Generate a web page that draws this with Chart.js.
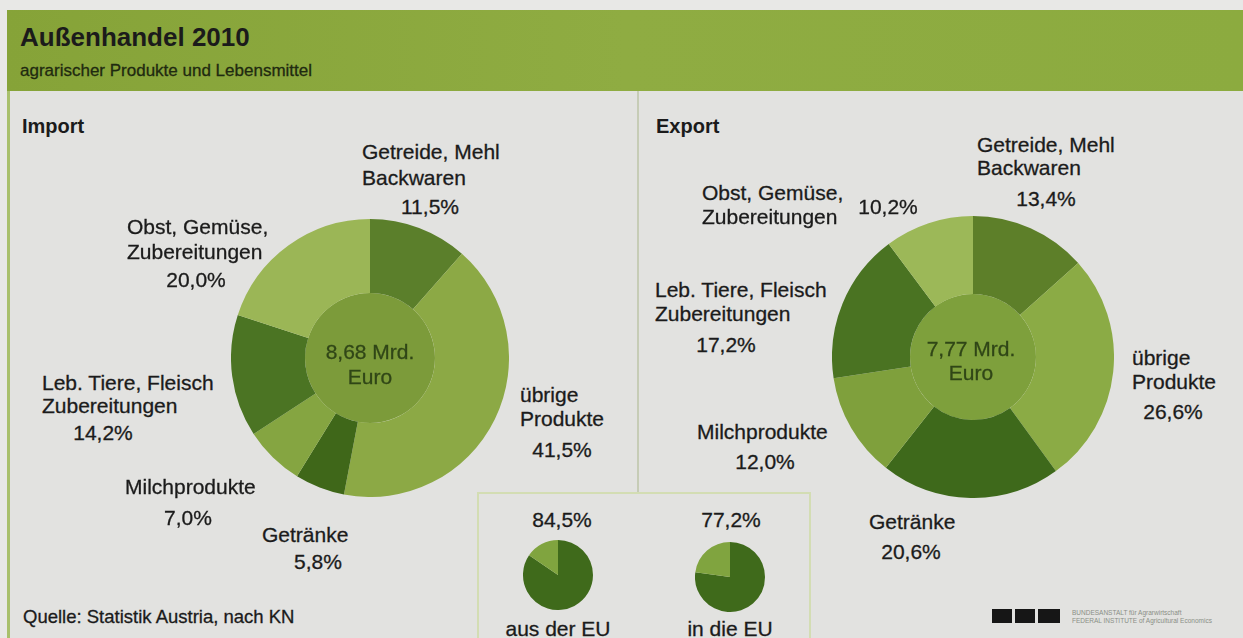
<!DOCTYPE html>
<html>
<head>
<meta charset="utf-8">
<script src="https://cdn.jsdelivr.net/npm/chart.js@4"></script>
<style>
  html, body { margin: 0; padding: 0; }
  body { width: 1243px; height: 638px; position: relative; overflow: hidden; background: #e8e8e6; font-family: "Liberation Sans", Arial, sans-serif; color: #1b1b1b; }
  #panel { position: absolute; left: 7px; top: 10px; width: 1236px; height: 628px; background: #e2e2e0; border-left: 3px solid #a9c06c; box-sizing: border-box; }
  #header { position: absolute; left: 7px; top: 10px; width: 1236px; height: 81px; background: linear-gradient(90deg, #86a338 0%, #8fac42 50%, #8cab3f 100%); }
  #divider { position: absolute; left: 637px; top: 91px; width: 2px; height: 402px; background: #c6ccb6; }
  #box { position: absolute; left: 477px; top: 492px; width: 334px; height: 160px; border: 2px solid #d3ddb3; box-sizing: border-box; }
  .t { position: absolute; white-space: nowrap; line-height: 24px; height: 24px; font-size: 21px; -webkit-text-stroke: 0.3px currentColor; }
  .c { transform: translateX(-50%); }
  .b { font-weight: bold; -webkit-text-stroke: 0; }
  canvas { position: absolute; }
  .logo { position: absolute; background: #161616; height: 14px; top: 609px; }
  .lt { position: absolute; font-size: 6.5px; line-height: 8px; color: #8a8f86; white-space: nowrap; left: 1072px; }
</style>
</head>
<body>
<div id="panel"></div>
<div id="header"></div>
<div id="divider"></div>
<div id="box"></div>

<div class="t b" style="left:20px; top:22px; font-size:26px; line-height:30px; height:30px;">Außenhandel 2010</div>
<div class="t" style="left:20px; top:61px; font-size:17px; line-height:20px; color:#1f2a10;">agrarischer Produkte und Lebensmittel</div>

<canvas id="imp" width="278" height="278" style="left:231px; top:219px;"></canvas>
<canvas id="exp" width="282" height="282" style="left:832px; top:216px;"></canvas>
<canvas id="impEU" width="70" height="70" style="left:523px; top:540px;"></canvas>
<canvas id="expEU" width="70" height="70" style="left:695px; top:542px;"></canvas>

<div id="labels"></div>

<div class="t" style="left:23px; top:605px; font-size:18.5px;">Quelle: Statistik Austria, nach KN</div>
<div class="logo" style="left:992px; width:20px;"></div>
<div class="logo" style="left:1015px; width:20px;"></div>
<div class="logo" style="left:1038px; width:22px;"></div>
<div class="lt" style="top:609px;">BUNDESANSTALT für Agrarwirtschaft</div>
<div class="lt" style="top:617px;">FEDERAL INSTITUTE of Agricultural Economics</div>

<script>
// ---- data ----
const categories = ["Getreide, Mehl Backwaren", "übrige Produkte", "Getränke", "Milchprodukte", "Leb. Tiere, Fleisch Zubereitungen", "Obst, Gemüse, Zubereitungen"];
const importShares = [11.5, 41.5, 5.8, 7.0, 14.2, 20.0];
const exportShares = [13.4, 26.6, 20.6, 12.0, 17.2, 10.2];
const totalsMrdEuro = [8.68, 7.77];
const euShares = [84.5, 77.2];
const euLabels = ["aus der EU", "in die EU"];
const panelTitles = ["Import", "Export"];

// ---- styles ----
const importColors = ["#5b7f2b", "#8ca945", "#3f6719", "#85a541", "#4b7423", "#9bb656"];
const exportColors = ["#5d7f29", "#8bab45", "#3e691b", "#7fa03c", "#4a7322", "#9cb858"];
const centerColors = ["#7c9b3a", "#7ea03c"];
const euColors = ["#3f6a1b", "#80a43f"];

const fmt = (v, d) => v.toFixed(d).replace('.', ',');

function donut(id, shares, colors, total, centerColor, outerW, innerW) {
  new Chart(document.getElementById(id), {
    type: 'doughnut',
    data: {
      labels: categories,
      datasets: [
        { data: shares, backgroundColor: colors, borderWidth: 0, weight: outerW },
        { data: [total], backgroundColor: [centerColor], borderWidth: 0, weight: innerW }
      ]
    },
    options: {
      responsive: false, animation: false, cutout: 0,
      layout: { padding: 0 },
      plugins: { legend: { display: false }, tooltip: { enabled: false } }
    }
  });
}
donut('imp', importShares, importColors, totalsMrdEuro[0], centerColors[0], 74, 65);
donut('exp', exportShares, exportColors, totalsMrdEuro[1], centerColors[1], 78, 63);

function euPie(id, share) {
  new Chart(document.getElementById(id), {
    type: 'pie',
    data: { labels: ['EU', 'Nicht-EU'], datasets: [{ data: [share, 100 - share], backgroundColor: euColors, borderWidth: 0 }] },
    options: { responsive: false, animation: false, layout: { padding: 0 }, plugins: { legend: { display: false }, tooltip: { enabled: false } } }
  });
}
euPie('impEU', euShares[0]);
euPie('expEU', euShares[1]);

// ---- text labels ----
const L = document.getElementById('labels');
function put(text, x, cy, opts = {}) {
  const d = document.createElement('div');
  d.className = 't' + (opts.center ? ' c' : '') + (opts.bold ? ' b' : '');
  d.textContent = text;
  d.style.left = x + 'px';
  d.style.top = (cy - 12) + 'px';
  if (opts.size) d.style.fontSize = opts.size + 'px';
  if (opts.color) d.style.color = opts.color;
  L.appendChild(d);
}
put(panelTitles[0], 22, 126, { bold: true, size: 20 });
put(panelTitles[1], 656, 126, { bold: true, size: 20 });

// Import labels
put("Getreide, Mehl", 362, 152); put("Backwaren", 362, 178); put(fmt(importShares[0], 1) + "%", 430, 207, { center: true });
put("übrige", 520, 395); put("Produkte", 520, 419); put(fmt(importShares[1], 1) + "%", 562, 450, { center: true });
put("Getränke", 262, 535); put(fmt(importShares[2], 1) + "%", 318, 562, { center: true });
put("Milchprodukte", 125, 487); put(fmt(importShares[3], 1) + "%", 188, 518, { center: true });
put("Leb. Tiere, Fleisch", 42, 383); put("Zubereitungen", 42, 406); put(fmt(importShares[4], 1) + "%", 103, 433, { center: true });
put("Obst, Gemüse,", 127, 227); put("Zubereitungen", 127, 252); put(fmt(importShares[5], 1) + "%", 196, 280, { center: true });

// Export labels
put("Getreide, Mehl", 977, 145); put("Backwaren", 977, 168); put(fmt(exportShares[0], 1) + "%", 1046, 199, { center: true });
put("übrige", 1132, 358); put("Produkte", 1132, 382); put(fmt(exportShares[1], 1) + "%", 1173, 412, { center: true });
put("Getränke", 869, 522); put(fmt(exportShares[2], 1) + "%", 911, 552, { center: true });
put("Milchprodukte", 697, 432); put(fmt(exportShares[3], 1) + "%", 765, 462, { center: true });
put("Leb. Tiere, Fleisch", 655, 290); put("Zubereitungen", 655, 314); put(fmt(exportShares[4], 1) + "%", 726, 345, { center: true });
put("Obst, Gemüse,", 702, 193); put("Zubereitungen", 702, 217); put(fmt(exportShares[5], 1) + "%", 888, 207, { center: true });

// Center totals
put(fmt(totalsMrdEuro[0], 2) + " Mrd.", 370, 352, { center: true, color: "#304617" });
put("Euro", 370, 377, { center: true, color: "#304617" });
put(fmt(totalsMrdEuro[1], 2) + " Mrd.", 971, 349, { center: true, color: "#304617" });
put("Euro", 971, 373, { center: true, color: "#304617" });

// EU box
put(fmt(euShares[0], 1) + "%", 562, 520, { center: true });
put(fmt(euShares[1], 1) + "%", 731, 520, { center: true });
put(euLabels[0], 558, 629, { center: true });
put(euLabels[1], 730, 629, { center: true });
</script>
</body>
</html>
